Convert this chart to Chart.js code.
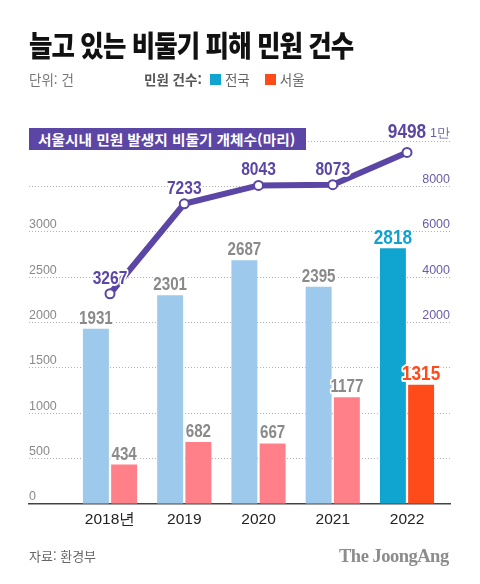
<!DOCTYPE html>
<html lang="ko">
<head>
<meta charset="utf-8">
<script src="https://cdn.jsdelivr.net/npm/chart.js@4/dist/chart.umd.min.js"></script>
<style>
  html, body { margin:0; padding:0; background:#fff; }
  body { width:480px; height:584px; position:relative; overflow:hidden; font-family:'Noto Sans CJK KR', 'Noto Sans', sans-serif; }
  #wrap { position:absolute; left:0; top:0; width:480px; height:584px; z-index:0; }
  .t { position:absolute; white-space:nowrap; z-index:2; line-height:1; }
  #title { left:29px; top:30px; font-size:29px; font-weight:900; color:#111; letter-spacing:-1px; transform-origin:left center; }
  #unit { left:29px; top:73px; font-size:13.5px; color:#777; }
  #lg { left:144px; top:73px; font-size:13.5px; color:#666; display:flex; align-items:center; }
  #lg b { color:#555; font-weight:700; margin-right:8px; }
  #lg .sw { display:inline-block; width:11px; height:11px; margin-right:4px; }
  #box { position:absolute; left:29px; top:128px; width:277px; height:22px; background:#5b46a5; z-index:2; }
  #boxt { position:absolute; left:38px; top:130px; font-size:14px; font-weight:700; color:#fff; transform-origin:left center; z-index:3; line-height:18px; }
  #src { left:29px; top:549px; font-size:13px; color:#666; }
  #logo { left:339px; top:547px; font-family:'Liberation Serif', 'DejaVu Serif', serif; font-weight:700; font-size:18.5px; color:#8c8c8c; letter-spacing:-0.5px; }
</style>
</head>
<body>
<div id="wrap"><canvas id="c" width="480" height="584"></canvas></div>
<div class="t" id="title">늘고 있는 비둘기 피해 민원 건수</div>
<div class="t" id="unit">단위: 건</div>
<div class="t" id="lg"><b>민원 건수:</b><span class="sw" style="background:#10a5d1"></span><span style="margin-right:15px">전국</span><span class="sw" style="background:#ff4a1a"></span><span>서울</span></div>
<div id="box"></div>
<div class="t" id="boxt">서울시내 민원 발생지 비둘기 개체수(마리)</div>
<div class="t" id="src">자료: 환경부</div>
<div class="t" id="logo">The JoongAng</div>
<script>
// ---- data ----
const categories = ['2018년', '2019', '2020', '2021', '2022'];
const nationalComplaints = [1931, 2301, 2687, 2395, 2818];
const seoulComplaints = [434, 682, 667, 1177, 1315];
const pigeonCount = [3267, 7233, 8043, 8073, 9498];
const leftTicks = [0, 500, 1000, 1500, 2000, 2500, 3000, 3500, 4000];
const leftTickText = ['0', '500', '1000', '1500', '2000', '2500', '3000', '', ''];
const rightTicks = [2000, 4000, 6000, 8000, 10000];
const rightTickText = ['2000', '4000', '6000', '8000', '1만'];

// fit title widths
function fit(id, w) {
  const el = document.getElementById(id);
  const s = w / el.scrollWidth;
  el.style.transform = 'scaleX(' + s + ')';
}
fit('title', 324);
fit('boxt', 257);

const NUM_FONT = "'Liberation Sans', Arial, sans-serif";
const NUM_SCALE = 0.82;
const TICK_FONT = "'Liberation Sans', Arial, sans-serif";

const valueLabels = {
  id: 'valueLabels',
  afterDatasetsDraw(chart) {
    const ctx = chart.ctx;
    chart.data.datasets.forEach((ds, di) => {
      const meta = chart.getDatasetMeta(di);
      meta.data.forEach((el, i) => {
        const v = ds.data[i].y;
        const size = ds.labelSize[i];
        ctx.save();
        ctx.translate(el.x, el.y - ds.labelGap[i]);
        ctx.scale(NUM_SCALE, 1);
        ctx.font = 'bold ' + size + 'px ' + NUM_FONT;
        ctx.textAlign = 'center';
        ctx.textBaseline = 'alphabetic';
        ctx.lineJoin = 'round';
        ctx.lineWidth = 4;
        ctx.strokeStyle = '#ffffff';
        ctx.strokeText(String(v), 0, 0);
        ctx.fillStyle = ds.labelColor[i];
        ctx.fillText(String(v), 0, 0);
        ctx.restore();
      });
    });
  }
};

const PURPLE = '#5b46a5';

new Chart(document.getElementById('c'), {
  type: 'bar',
  data: {
    datasets: [
      {
        type: 'line',
        yAxisID: 'yR',
        data: pigeonCount.map((v, i) => ({ x: i, y: v })),
        borderColor: PURPLE,
        borderWidth: 6,
        pointRadius: 4.5,
        pointBackgroundColor: '#ffffff',
        pointBorderColor: PURPLE,
        pointBorderWidth: 2,
        tension: 0,
        labelColor: [PURPLE, PURPLE, PURPLE, PURPLE, PURPLE],
        labelSize: [19, 19, 19, 19, 21],
        labelGap: [10, 10, 10, 10, 14]
      },
      {
        yAxisID: 'y',
        data: nationalComplaints.map((v, i) => ({ x: i, y: v })),
        backgroundColor: ['#9dc9ec', '#9dc9ec', '#9dc9ec', '#9dc9ec', '#10a5d1'],
        categoryPercentage: 0.76,
        barPercentage: 0.92,
        labelColor: ['#8a8a8a', '#8a8a8a', '#8a8a8a', '#8a8a8a', '#12a2d2'],
        labelSize: [18.5, 18.5, 18.5, 18.5, 21],
        labelGap: [5, 5, 5, 5, 4]
      },
      {
        yAxisID: 'y',
        data: seoulComplaints.map((v, i) => ({ x: i, y: v })),
        backgroundColor: ['#ff8088', '#ff8088', '#ff8088', '#ff8088', '#ff4a1a'],
        categoryPercentage: 0.76,
        barPercentage: 0.92,
        labelColor: ['#8a8a8a', '#8a8a8a', '#8a8a8a', '#8a8a8a', '#ff4a1a'],
        labelSize: [18.5, 18.5, 18.5, 18.5, 21],
        labelGap: [5, 5, 5, 5, 5]
      }
    ]
  },
  options: {
    responsive: false,
    devicePixelRatio: 1,
    animation: false,
    layout: { padding: { left: 29, right: 30, top: 141, bottom: 50 } },
    plugins: { legend: { display: false }, tooltip: { enabled: false } },
    scales: {
      x: {
        type: 'linear',
        bounds: 'data',
        offset: false,
        min: -1.091,
        max: 4.579,
        grid: { display: false, offset: false, drawTicks: false },
        border: { display: true, color: '#444', width: 1.5 },
        afterBuildTicks: s => { s.ticks = categories.map((c, i) => ({ value: i })); },
        afterFit: s => { s.height = 30; },
        ticks: {
          autoSkip: false, maxRotation: 0, padding: 6, color: '#222',
          font: { family: TICK_FONT, size: 15.5 },
          callback: v => categories[v] ?? ''
        }
      },
      y: {
        position: 'left',
        min: 0, max: 4000,
        afterBuildTicks: s => { s.ticks = leftTicks.map(v => ({ value: v })); },
        afterFit: s => { s.width = 0; },
        border: { display: false, dash: [1, 2] },
        grid: { drawTicks: false, lineWidth: 1, color: c => (c.tick && c.tick.value === 0) ? 'rgba(0,0,0,0)' : '#b3b3b3' },
        ticks: {
          mirror: true, padding: 0, labelOffset: -7, color: '#8a8a8a',
          font: { family: TICK_FONT, size: 12.5 },
          callback: v => leftTickText[leftTicks.indexOf(v)] ?? ''
        }
      },
      yR: {
        position: 'right',
        min: -6000, max: 10000,
        afterBuildTicks: s => { s.ticks = rightTicks.map(v => ({ value: v })); },
        afterFit: s => { s.width = 0; },
        border: { display: false },
        grid: { display: false, drawTicks: false },
        ticks: {
          mirror: true, padding: 0, labelOffset: -7, color: '#6b5ca8',
          font: { family: TICK_FONT, size: 12.5 },
          callback: v => rightTickText[rightTicks.indexOf(v)] ?? ''
        }
      }
    }
  },
  plugins: [valueLabels]
});
</script>
</body>
</html>
